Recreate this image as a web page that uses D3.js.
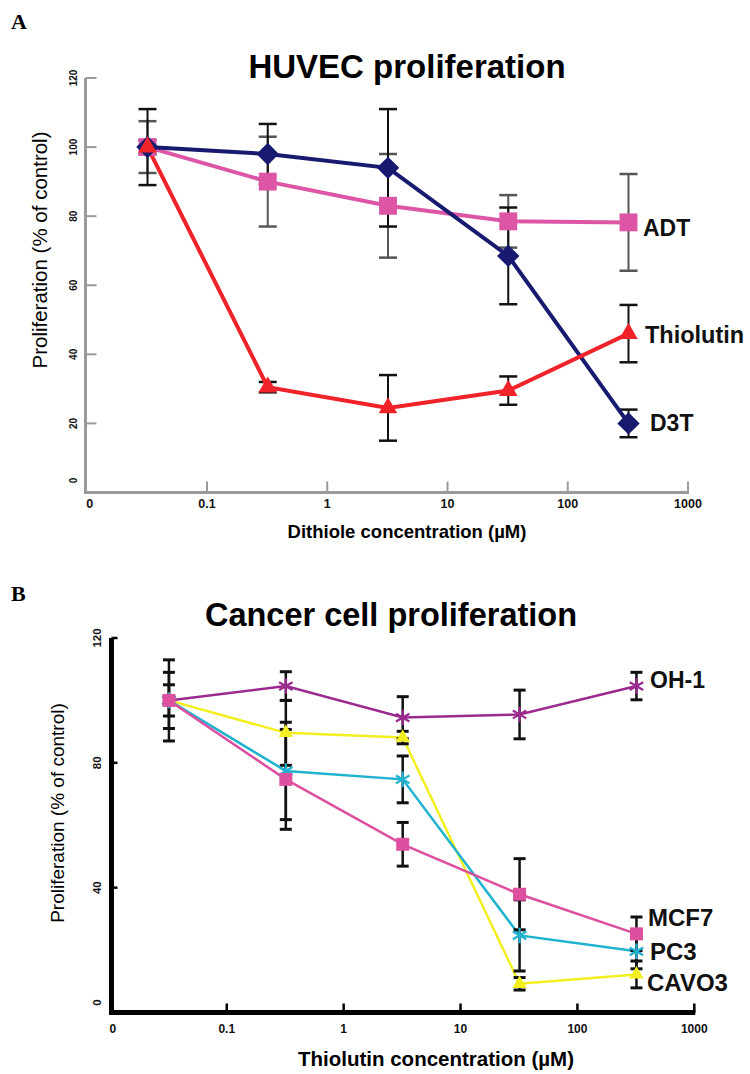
<!DOCTYPE html>
<html><head><meta charset="utf-8">
<script src="https://cdn.jsdelivr.net/npm/d3@7"></script>
<style>
html,body{margin:0;padding:0;background:#fff;}
svg{display:block;font-family:"Liberation Sans",Arial,sans-serif;}
</style></head>
<body>
<svg id="chart" width="750" height="1074"></svg>
<script>
// ---- data ----
const concentrations = [0.032, 0.32, 3.2, 32, 320];
const xTickValues = [0.01, 0.1, 1, 10, 100, 1000];
const xTickLabels = ["0", "0.1", "1", "10", "100", "1000"];

// Panel A: HUVEC proliferation
const d3tValues = [100, 98, 94, 68.5, 20];
const d3tErrors = [11, 8.7, 17, 14, 4];
const adtValues = [100, 90, 83, 78.5, 78.2];
const adtErrors = [7.5, 13, 15, 7.6, 14];
const thiolutinValues = [100, 30.5, 24.5, 29.5, 46];
const thiolutinErrors = [2, 1.5, 9.5, 4.1, 8.3];
const yTicksA = [0, 20, 40, 60, 80, 100, 120];

// Panel B: Cancer cell proliferation
const oh1Values = [100, 104.6, 94.5, 95.5, 104.6];
const oh1Errors = [0, 4.6, 6.7, 7.8, 4.4];
const cavo3Values = [100, 89.6, 88.1, 9.2, 12.2];
const cavo3Errors = [5, 10.4, 2, 2, 4.3];
const pc3Values = [100, 77.4, 74.7, 24.7, 19.6];
const pc3Errors = [9, 15.6, 7.5, 11.4, 5.6];
const mcf7Values = [100, 74.7, 53.9, 37.9, 25.2];
const mcf7Errors = [13, 16, 7, 11.4, 5.4];
const yTicksB = [0, 40, 80, 120];

const svg = d3.select("#chart");

function drawPanel(cfg) {
  const g = svg.append("g");
  const x = d3.scaleLog().domain([0.01, 1000]).range(cfg.xRange);
  const y = d3.scaleLinear().domain([0, 120]).range(cfg.yRange);

  // axes lines
  g.append("line").attr("x1", cfg.axisX).attr("x2", cfg.axisX)
    .attr("y1", y(120)).attr("y2", y(0) + cfg.axisW / 2)
    .attr("stroke", cfg.axisColor).attr("stroke-width", cfg.axisW);
  g.append("line").attr("x1", cfg.axisX - cfg.axisW / 2).attr("x2", x(1000) + 1)
    .attr("y1", y(0)).attr("y2", y(0))
    .attr("stroke", cfg.axisColor).attr("stroke-width", cfg.axisW);

  // y ticks (inside)
  cfg.yTicks.forEach(v => {
    if (v > 0) g.append("line").attr("x1", cfg.axisX).attr("x2", cfg.axisX + cfg.yTickLen)
      .attr("y1", y(v)).attr("y2", y(v)).attr("stroke", cfg.axisColor).attr("stroke-width", cfg.tickW);
    const ly = v === 0 ? y(v) - cfg.zeroShift : y(v);
    g.append("text").attr("transform", `translate(${cfg.yLabelX},${ly}) rotate(-90)`)
      .attr("text-anchor", "middle").attr("dominant-baseline", "central")
      .attr("font-size", cfg.yTickFont).attr("font-weight", "bold").attr("fill", "#111").text(v);
  });
  // x ticks (inside)
  xTickValues.forEach((v, i) => {
    if (i > 0) g.append("line").attr("x1", x(v)).attr("x2", x(v))
      .attr("y1", y(0)).attr("y2", y(0) - cfg.xTickLen)
      .attr("stroke", cfg.axisColor).attr("stroke-width", cfg.tickW);
    g.append("text").attr("x", x(v) + (i === 0 ? 3 : 0)).attr("y", cfg.xLabelY)
      .attr("text-anchor", "middle").attr("font-size", cfg.xTickFont).attr("font-weight", "bold")
      .attr("fill", "#111").text(xTickLabels[i]);
  });

  // titles
  g.append("text").attr("x", cfg.titleX).attr("y", cfg.titleY).attr("text-anchor", "middle")
    .attr("font-size", cfg.titleFont).attr("font-weight", "bold").text(cfg.title);
  g.append("text").attr("x", cfg.xTitleX).attr("y", cfg.xTitleY).attr("text-anchor", "middle")
    .attr("font-size", cfg.xTitleFont).attr("font-weight", "bold").text(cfg.xTitle);
  g.append("text").attr("transform", `translate(${cfg.yTitleX},${cfg.yTitleY}) rotate(-90)`)
    .attr("text-anchor", "middle").attr("font-size", cfg.yTitleFont).text("Proliferation (% of control)");
  g.append("text").attr("x", 11).attr("y", cfg.letterY)
    .attr("font-family", "'Liberation Serif','Times New Roman',serif")
    .attr("font-size", 22).attr("font-weight", "bold").text(cfg.letter);

  const line = d3.line().x((d, i) => x(concentrations[i])).y(d => y(d));

  function errorBars(s) {
    s.values.forEach((v, i) => {
      const e = s.errors[i];
      if (!e) return;
      const cx = x(concentrations[i]);
      const eg = g.append("g").attr("stroke", s.errColor || "#111").attr("stroke-width", cfg.errW);
      eg.append("line").attr("x1", cx).attr("x2", cx).attr("y1", y(v + e)).attr("y2", y(v - e));
      [v + e, v - e].forEach(t => eg.append("line").attr("x1", cx - cfg.capW / 2).attr("x2", cx + cfg.capW / 2)
        .attr("y1", y(t)).attr("y2", y(t)).attr("stroke-width", cfg.capStroke));
    });
  }
  if (cfg.errFirst) cfg.series.forEach(errorBars);
  cfg.series.forEach(s => {
    g.append("path").datum(s.values).attr("d", line).attr("fill", "none")
      .attr("stroke", s.color).attr("stroke-width", cfg.lineW).attr("stroke-linejoin", "miter");
  });
  if (!cfg.errFirst) cfg.series.forEach(errorBars);
  cfg.series.forEach(s => {
    const sym = d3.symbol().type(s.symbol).size(s.size);
    s.values.forEach((v, i) => {
      const p = g.append("path").attr("d", sym())
        .attr("transform", `translate(${x(concentrations[i])},${y(v)})${s.rotate ? " rotate(45)" : ""}`);
      if (s.symbol === d3.symbolAsterisk) p.attr("fill", "none").attr("stroke", s.color).attr("stroke-width", 2.2);
      else p.attr("fill", s.color);
    });
    g.append("text").attr("x", s.labelX).attr("y", y(s.labelValue)).attr("dominant-baseline", "central")
      .attr("font-size", s.labelFont).attr("font-weight", s.labelWeight).attr("fill", "#111").text(s.name);
  });
}

drawPanel({
  letter: "A", letterY: 29,
  title: "HUVEC proliferation", titleX: 407, titleY: 78, titleFont: 33,
  xTitle: "Dithiole concentration (\u00b5M)", xTitleX: 407, xTitleY: 538, xTitleFont: 18.5,
  yTitleX: 47, yTitleY: 250, yTitleFont: 20.5,
  xRange: [86.75, 688], yRange: [492.5, 78], axisX: 85.5, axisW: 3, axisColor: "#9a9a9a", tickW: 2,
  yTicks: yTicksA, yTickLen: 11, xTickLen: 11, yLabelX: 73, yTickFont: 10, zeroShift: 12,
  xLabelY: 508, xTickFont: 12.5,
  lineW: 4, errW: 2, capW: 18, capStroke: 2.5, errFirst: true,
  series: [
    { name: "ADT", values: adtValues, errors: adtErrors, color: "#dd55a5", errColor: "#555",
      symbol: d3.symbolSquare, size: 320, labelX: 643, labelValue: 76.5, labelFont: 23, labelWeight: "bold" },
    { name: "D3T", values: d3tValues, errors: d3tErrors, color: "#171a6e",
      symbol: d3.symbolSquare, size: 250, rotate: true, labelX: 650, labelValue: 20, labelFont: 23, labelWeight: "bold" },
    { name: "Thiolutin", values: thiolutinValues, errors: thiolutinErrors, color: "#f0222a",
      symbol: d3.symbolTriangle, size: 150, labelX: 645, labelValue: 45.5, labelFont: 23.5, labelWeight: "bold" }
  ]
});

drawPanel({
  letter: "B", letterY: 601,
  title: "Cancer cell proliferation", titleX: 391, titleY: 626, titleFont: 32.5,
  xTitle: "Thiolutin concentration (\u00b5M)", xTitleX: 436, xTitleY: 1066, xTitleFont: 20.5,
  yTitleX: 64, yTitleY: 813, yTitleFont: 19,
  xRange: [109.9, 694.3], yRange: [1012.5, 638], axisX: 111.5, axisW: 5, axisColor: "#000", tickW: 2.5,
  yTicks: yTicksB, yTickLen: 6, xTickLen: 9, yLabelX: 97, yTickFont: 11.5, zeroShift: 10,
  xLabelY: 1033, xTickFont: 12,
  lineW: 2.5, errW: 2.5, capW: 12, capStroke: 3, errFirst: false,
  series: [
    { name: "OH-1", values: oh1Values, errors: oh1Errors, color: "#9a2a8e",
      symbol: d3.symbolAsterisk, size: 170, labelX: 650, labelValue: 106.5, labelFont: 23, labelWeight: "bold" },
    { name: "CAVO3", values: cavo3Values, errors: cavo3Errors, color: "#f3ef1f",
      symbol: d3.symbolTriangle, size: 90, labelX: 647, labelValue: 9.7, labelFont: 24, labelWeight: "bold" },
    { name: "PC3", values: pc3Values, errors: pc3Errors, color: "#1fb3cf",
      symbol: d3.symbolAsterisk, size: 170, labelX: 650, labelValue: 19.7, labelFont: 24, labelWeight: "bold" },
    { name: "MCF7", values: mcf7Values, errors: mcf7Errors, color: "#dd4f9f",
      symbol: d3.symbolSquare, size: 169, labelX: 648, labelValue: 30.3, labelFont: 24, labelWeight: "bold" }
  ]
});
</script>
</body></html>
